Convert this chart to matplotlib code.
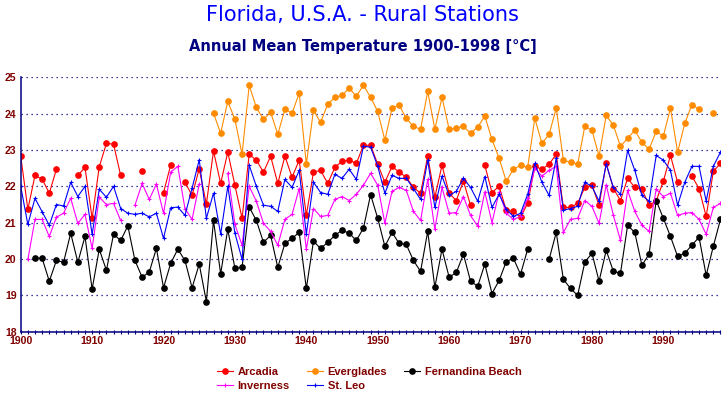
import numpy as np
import matplotlib
matplotlib.use('Agg')
import matplotlib.pyplot as plt
from matplotlib.ticker import MultipleLocator

nan = np.nan
years = np.arange(1900, 1999)

# annual means, degC  (nan = no data that year)
arcadia = [22.83, 21.37, 22.30, 22.20, 21.81, 22.47, nan, nan, 22.30, 22.52,
           21.12, 22.54, 23.18, 23.16, 22.30, nan, nan, 22.41, nan, nan,
           21.83, 22.58, nan, 22.11, 21.75, 22.48, 21.51, 22.97, 22.08, 22.94,
           22.03, 21.12, 22.88, 22.72, 22.39, 22.83, 22.08, 22.83, 22.25, 22.72,
           21.20, 22.39, 22.44, 22.08, 22.52, 22.69, 22.72, 22.63, 23.13, 23.13,
           22.61, 22.11, 22.55, 22.39, 22.25, 21.97, 21.81, 22.83, 21.70, 22.58,
           21.81, 21.61, 22.14, 21.48, nan, 22.58, 21.83, 22.00, 21.34, 21.31,
           21.15, 21.53, 22.55, 22.47, 22.61, 22.88, 21.42, 21.42, 21.53, 21.97,
           22.03, 21.48, 22.63, 21.94, 21.61, 22.22, 21.97, 21.92, 21.48, 21.60,
           22.14, 22.85, 22.11, nan, 22.28, 21.94, 21.17, 22.41, 22.63]

everglades = [nan] * 27 + [
    24.01, 23.46, 24.34,
    23.84, 22.88, 24.78, 24.17, 23.84, 24.04, 23.43, 24.12, 24.01, 24.56,
    22.61, 24.09, 23.76, 24.26, 24.45, 24.50, 24.70, 24.48, 24.78, 24.45,
    24.06, 23.27, 24.15, 24.23, 23.87, 23.65, 23.57, 24.61, 23.57, 24.45,
    23.57, 23.60, 23.65, 23.46, 23.63, 23.93, 23.29, 22.77, 22.14, 22.47,
    22.58, 22.52, 23.87, 23.18, 23.43, 24.15, 22.72, 22.66, 22.61, 23.65,
    23.54, 22.83, 23.95, 23.68, 23.10, 23.32, 23.54, 23.21, 23.02, 23.51,
    23.38, 24.15, 22.94, 23.73, 24.25, 24.12, nan, 24.01, nan]

fernandina = [nan, nan, 20.02, 20.02, 19.39, 19.96, 19.91, 20.71, 19.91, 20.62,
              19.17, 20.27, 19.69, 20.68, 20.51, 20.91, 19.96, 19.50, 19.64, 20.29,
              19.21, 19.88, 20.27, 19.96, 19.21, 19.86, 18.83, 21.06, 19.59, 20.82,
              19.74, 19.77, 21.43, 21.06, 20.46, 20.65, 19.77, 20.43, 20.57, 20.73,
              19.19, 20.49, 20.29, 20.46, 20.65, 20.79, 20.71, 20.51, 20.85, 21.77,
              21.12, 20.35, 20.73, 20.43, 20.40, 19.96, 19.66, 20.76, 19.22, 20.27,
              19.50, 19.63, 20.13, 19.39, 19.25, 19.86, 19.05, 19.41, 19.93, 20.02,
              19.58, 20.27, nan, nan, 19.99, 20.73, 19.44, 19.19, 19.00, 19.91,
              20.16, 19.39, 20.24, 19.66, 19.61, 20.93, 20.73, 19.83, 20.13, 21.61,
              21.12, 20.62, 20.07, 20.16, 20.38, 20.60, 19.55, 20.35, 21.09]

inverness = [nan, 19.99, 21.09, 21.09, 20.62, 21.15, 21.26, 21.67, 20.98, 21.23,
             20.29, 21.70, 21.50, 21.53, 21.06, nan, 21.48, 22.08, 21.64, 22.06,
             21.26, 22.39, 22.55, 21.39, 21.09, 22.06, nan, nan, nan, 22.36,
             20.95, 20.38, 22.00, 21.59, 20.98, 20.76, 20.38, 21.09, 21.23, 21.94,
             20.27, 21.39, 21.17, 21.20, 21.64, 21.72, 21.61, 21.78, 22.03, 22.36,
             22.03, 20.98, 21.86, 21.97, 21.89, 21.31, 21.06, 22.19, 20.82, 21.97,
             21.26, 21.28, 21.72, 21.20, 20.90, 21.85, 21.00, 21.84, 21.26, 21.09,
             21.17, 21.67, 22.50, 22.28, 22.44, 22.55, 20.73, 21.09, 21.12, 21.61,
             21.45, 20.98, 22.04, 21.20, 20.51, 21.89, 21.31, 20.93, 20.76, 21.92,
             21.72, 21.81, 21.20, 21.26, 21.28, 21.09, 20.68, 21.42, 21.53]

st_leo = [22.00, 20.95, 21.67, 21.30, 20.93, 21.50, 21.46, 22.11, 21.72, 22.00,
          20.68, 21.92, 21.70, 22.00, 21.39, 21.26, 21.23, 21.26, 21.16, 21.26,
          20.57, 21.41, 21.43, 21.20, 21.95, 22.73, 21.12, 21.81, 20.68, 22.00,
          20.71, 19.99, 22.58, 22.00, 21.48, 21.45, 21.31, 22.19, 21.97, 22.44,
          20.68, 22.11, 21.83, 21.78, 22.33, 22.22, 22.47, 22.19, 23.10, 23.08,
          22.55, 21.81, 22.30, 22.22, 22.22, 21.94, 21.64, 22.72, 21.42, 22.28,
          21.75, 21.86, 22.22, 21.97, 21.59, 22.27, 21.42, 21.78, 21.37, 21.17,
          21.26, 21.78, 22.63, 22.11, 21.75, 22.77, 21.34, 21.39, 21.45, 22.11,
          22.00, 21.59, 22.61, 21.97, 21.78, 22.99, 22.44, 21.75, 21.59, 22.85,
          22.72, 22.44, 21.48, 22.11, 22.55, 22.55, 21.59, 22.55, 22.94]

navy = '#000080'
maroon = '#800000'
tick_font = dict(family='Liberation Sans', weight='bold', size=7.6)

fig = plt.figure(figsize=(7.27, 3.94), dpi=100)
ax = fig.add_axes([0.0285, 0.1581, 0.9625, 0.6457])

h_arc, = ax.plot(years, arcadia, color='#ff0000', lw=0.8, marker='o', ms=3.8, label='Arcadia')
h_evg, = ax.plot(years, everglades, color='#ff8c00', lw=0.8, marker='o', ms=3.8, label='Everglades')
h_fer, = ax.plot(years, fernandina, color='black', lw=0.8, marker='o', ms=3.8, label='Fernandina Beach')
h_inv, = ax.plot(years, inverness, color='#ff00ff', lw=0.8, marker='+', ms=3, mew=0.8, label='Inverness')
h_leo, = ax.plot(years, st_leo, color='#0000ff', lw=0.8, marker='+', ms=3, mew=0.8, label='St. Leo')

ax.set_xlim(1900, 1998)
ax.set_ylim(18, 25)
ax.xaxis.set_major_locator(MultipleLocator(10))
ax.xaxis.set_minor_locator(MultipleLocator(1))
ax.yaxis.set_major_locator(MultipleLocator(1))
ax.yaxis.grid(True, linestyle=(0, (1, 3)), color=navy, lw=0.9)
ax.set_axisbelow(True)

for s in ['top', 'right']:
    ax.spines[s].set_visible(False)
for s in ['left', 'bottom']:
    ax.spines[s].set_color(navy)
    ax.spines[s].set_linewidth(1.1)

ax.tick_params(axis='x', which='both', direction='inout', length=3.5, width=0.8, color=navy, pad=1.5)
ax.tick_params(axis='y', length=0, pad=3)
for lab in ax.get_xticklabels() + ax.get_yticklabels():
    lab.set(color=maroon, **tick_font)

fig.text(0.498, 1 - 15 / 394, 'Florida, U.S.A. - Rural Stations',
         ha='center', va='center', color='#0000ff', fontsize=15)
fig.text(0.499, 1 - 46 / 394, 'Annual Mean Temperature 1900-1998 [°C]',
         ha='center', va='center', color=navy, fontsize=10.5, fontweight='bold')

fig.legend(handles=[h_arc, h_inv, h_evg, h_leo, h_fer], ncol=3, loc='center',
           bbox_to_anchor=(0.508, 0.0388), frameon=False, labelcolor=maroon,
           prop=dict(family='Liberation Sans', weight='bold', size=8),
           handlelength=1.45, handletextpad=0.45, columnspacing=1.5,
           labelspacing=0.35, borderpad=0)

fig.savefig('out.png', dpi=100, facecolor='white')
